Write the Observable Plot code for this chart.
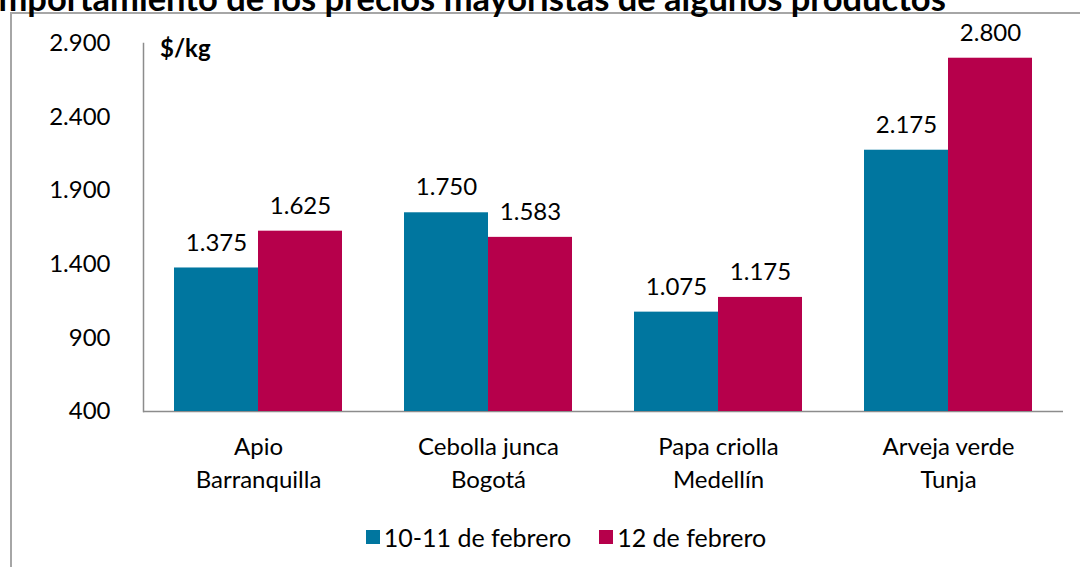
<!DOCTYPE html>
<html>
<head>
<meta charset="utf-8">
<script src="https://cdn.jsdelivr.net/npm/d3@7"></script>
<script src="https://cdn.jsdelivr.net/npm/@observablehq/plot@0.6"></script>
<style>
  html, body { margin: 0; padding: 0; background: #fff; }
  #wrap { position: relative; width: 1080px; height: 567px; overflow: hidden; background: #fff; font-family: Lato, sans-serif; }
  #frame { position: absolute; left: 10px; top: 12px; width: 1200px; height: 700px; border: 2px solid #a6a6a6; box-sizing: border-box; }
  #title { position: absolute; left: 451px; top: -17px; transform: translateX(-50%); white-space: nowrap; font-weight: bold; font-size: 34.5px; line-height: 30px; color: #000; }
  #unit { position: absolute; left: 160px; top: 33px; font-weight: bold; font-size: 24px; color: #000; }
  #axes, #chart { position: absolute; left: 0; top: 0; }
  #legend { position: absolute; left: 0; width: 1080px; top: 520px; display: flex; justify-content: center; padding-left: 80px; box-sizing: border-box; }
  .lg-swatch { margin-right: 28px !important; }
  .lg-swatch > svg { margin-right: 4px !important; }
</style>
</head>
<body>
<div id="wrap">
  <div id="frame"></div>
  <div id="title">Comportamiento de los precios mayoristas de algunos productos</div>
  <div id="axes"></div>
  <div id="chart"></div>
  <div id="unit">$/kg</div>
  <div id="legend"></div>
</div>
<script>
const categories = ["Apio\nBarranquilla", "Cebolla junca\nBogotá", "Papa criolla\nMedellín", "Arveja verde\nTunja"];
const series = ["10-11 de febrero", "12 de febrero"];
const values1 = [1375, 1750, 1075, 2175];
const values2 = [1625, 1583, 1175, 2800];
const yTicks = [400, 900, 1400, 1900, 2400, 2900];
const colors = ["#00769f", "#b6004b"];

const data = [];
categories.forEach((c, i) => {
  data.push({cat: c, series: series[0], value: values1[i]});
  data.push({cat: c, series: series[1], value: values2[i]});
});

const loc = d3.formatLocale({decimal: ",", thousands: ".", grouping: [3], currency: ["$", ""]});
const fmt = loc.format(",d");
const yMin = yTicks[0], yMax = yTicks[yTicks.length - 1];

const common = {
  width: 1080,
  height: 567,
  marginTop: 43,
  marginBottom: 156,
  marginLeft: 143,
  marginRight: 17,
  style: {fontFamily: "Lato, sans-serif", fontSize: "24px", color: "#000", background: "transparent", overflow: "visible"}
};

// Axis layer: y ticks, y-axis line and baseline
const axes = Plot.plot({
  ...common,
  x: {type: "band", domain: categories, axis: null},
  y: {domain: [yMin, yMax], axis: null},
  marks: [
    Plot.axisY({ticks: yTicks, tickSize: 0, tickPadding: 33, tickFormat: fmt, label: null, fill: "#000"}),
    Plot.ruleY([yMin], {stroke: "#8c8c8c", strokeWidth: 1.5}),
    Plot.frame({anchor: "left", stroke: "#8c8c8c", strokeWidth: 1.5})
  ]
});
document.getElementById("axes").appendChild(axes);

// Bars layer (grouped with fx facets)
const chart = Plot.plot({
  ...common,
  fx: {domain: categories, paddingInner: 0.27, paddingOuter: 0.135, label: null},
  x: {domain: series, padding: 0, axis: null},
  y: {domain: [yMin, yMax], axis: null},
  color: {domain: series, range: colors},
  marks: [
    Plot.barY(data, {fx: "cat", x: "series", y1: yMin, y2: "value", fill: "series"}),
    Plot.text(data, {fx: "cat", x: "series", y: "value", text: d => fmt(d.value), dy: -25, fill: "#000"}),
    Plot.axisFx({anchor: "bottom", tickSize: 0, tickPadding: 20, lineHeight: 1.38, label: null, fill: "#000"})
  ]
});
document.getElementById("chart").appendChild(chart);

const legend = Plot.legend({
  color: {domain: series, range: colors},
  legend: "swatches",
  swatchSize: 14,
  className: "lg",
  style: {fontFamily: "Lato, sans-serif", fontSize: "25px", color: "#000"}
});
document.getElementById("legend").appendChild(legend);
</script>
</body>
</html>
